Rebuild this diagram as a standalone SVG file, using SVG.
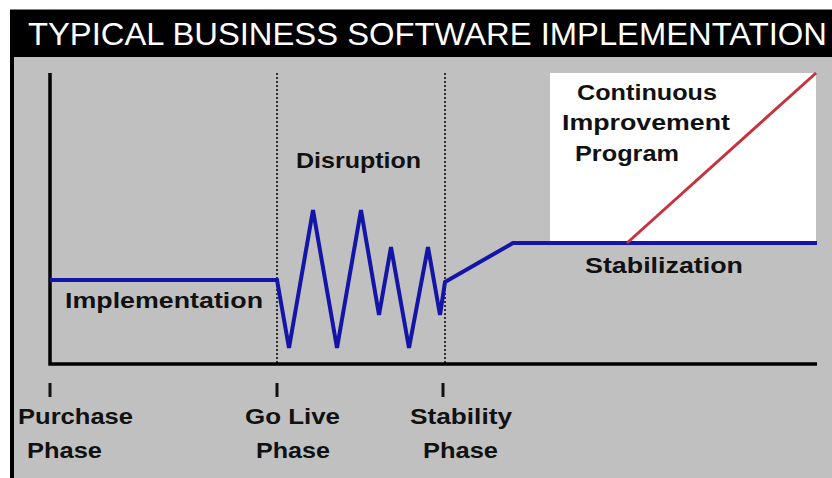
<svg xmlns="http://www.w3.org/2000/svg" width="832" height="478" viewBox="0 0 832 478">
<style>
.lbl{font-family:"Liberation Sans",Arial,sans-serif;font-weight:bold;font-size:22px;fill:#111;}
.title{font-family:"Liberation Sans",Arial,sans-serif;font-size:31px;fill:#fff;}
.axis{stroke:#000;stroke-width:3.5;fill:none;}
.dot{stroke:#000;stroke-width:1.5;stroke-dasharray:2 2;fill:none;}
.blue{stroke:#1414a8;stroke-width:4;fill:none;stroke-linejoin:miter;}
.tick{stroke:#111;stroke-width:3;}
</style>
<rect x="0" y="0" width="832" height="478" fill="#fff"/>
<rect x="10" y="9.5" width="822" height="470" fill="#000"/>
<rect x="14" y="57" width="818" height="421" fill="#c0c0c0"/>
<g id="title"><text class="title" x="28" y="45" textLength="799" lengthAdjust="spacingAndGlyphs">TYPICAL BUSINESS SOFTWARE IMPLEMENTATION</text></g>
<g id="ci-box"><rect x="550" y="73" width="266" height="170" fill="#fff"/>
<text class="lbl" x="577" y="100" textLength="140" lengthAdjust="spacingAndGlyphs">Continuous</text>
<text class="lbl" x="562" y="130" textLength="168" lengthAdjust="spacingAndGlyphs">Improvement</text>
<text class="lbl" x="575" y="161" textLength="104" lengthAdjust="spacingAndGlyphs">Program</text></g>
<g id="axes">
<path class="axis" d="M50 73 V364 H817"/>
<path class="dot" d="M277 73 V364"/>
<path class="dot" d="M445 73 V364"/>
</g>
<g id="connectors">
<path class="blue" d="M50 280 H277 L289 348 L313 210 L337 348 L361 210 L379 315 L391 247 L409 348 L428 247 L440 315 L445 282 L513 243 H817"/>
<path d="M627 243 L816 73" stroke="#c8323c" stroke-width="3" fill="none"/>
</g>
<g id="labels">
<text class="lbl" x="65" y="308" textLength="198" lengthAdjust="spacingAndGlyphs">Implementation</text>
<text class="lbl" x="296" y="168" textLength="125" lengthAdjust="spacingAndGlyphs">Disruption</text>
<text class="lbl" x="585" y="273" textLength="158" lengthAdjust="spacingAndGlyphs">Stabilization</text>
</g>
<g id="phase-purchase"><line class="tick" x1="50" y1="383" x2="50" y2="397"/>
<text class="lbl" x="18" y="424" textLength="115" lengthAdjust="spacingAndGlyphs">Purchase</text>
<text class="lbl" x="27" y="458" textLength="75" lengthAdjust="spacingAndGlyphs">Phase</text></g>
<g id="phase-golive"><line class="tick" x1="277" y1="383" x2="277" y2="397"/>
<text class="lbl" x="245" y="424" textLength="95" lengthAdjust="spacingAndGlyphs">Go Live</text>
<text class="lbl" x="256" y="458" textLength="74" lengthAdjust="spacingAndGlyphs">Phase</text></g>
<g id="phase-stability"><line class="tick" x1="443" y1="383" x2="443" y2="397"/>
<text class="lbl" x="410" y="424" textLength="102" lengthAdjust="spacingAndGlyphs">Stability</text>
<text class="lbl" x="423" y="458" textLength="75" lengthAdjust="spacingAndGlyphs">Phase</text></g>
</svg>
